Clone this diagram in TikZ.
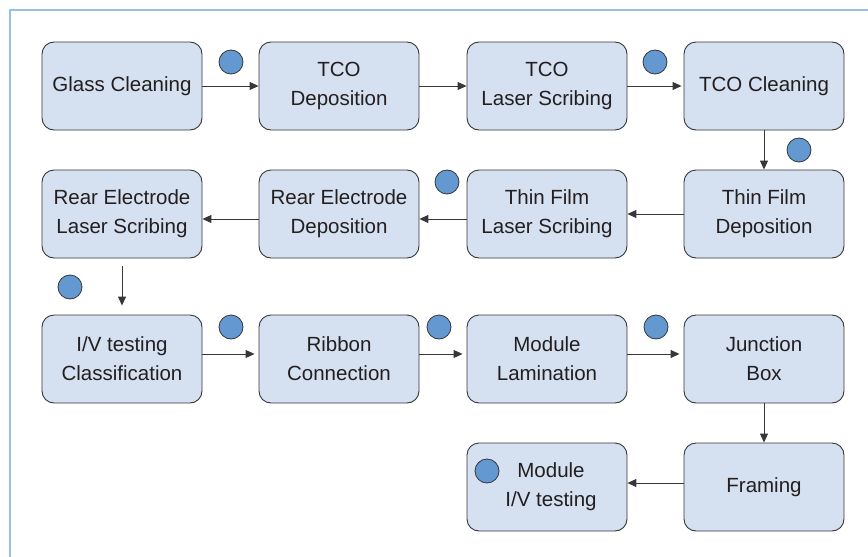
\documentclass[tikz,border=0pt]{standalone}
\usepackage{fontspec}
\setmainfont{Liberation Sans}
\usetikzlibrary{arrows.meta}
\definecolor{boxfill}{RGB}{213,224,240}
\definecolor{boxdraw}{RGB}{55,55,58}
\definecolor{dotfill}{RGB}{100,152,208}
\definecolor{frame}{RGB}{150,192,232}
\definecolor{txt}{RGB}{35,31,32}
\tikzset{
  stepbox/.style={draw=boxdraw, line width=0.9pt, fill=boxfill, rounded corners=12pt,
    minimum width=160pt, minimum height=88pt, align=center, inner sep=0pt,
    text=txt, font=\fontsize{20.5}{29}\selectfont},
  dot/.style={circle, draw=boxdraw, line width=0.8pt, fill=dotfill, minimum size=24pt, inner sep=0pt},
  flow/.style={draw=boxdraw, line width=1pt, -{Triangle[length=9pt,width=8pt]}}
}
\begin{document}
\begin{tikzpicture}[x=1pt,y=-1pt]
\useasboundingbox (0,0) rectangle (868,557);
\draw[frame, line width=1.5pt] (868,10) -- (10,10) -- (10,557);
% row 1
\node[stepbox] (gc) at (122,86) {Glass Cleaning};
\node[stepbox] (tcod) at (339,86) {TCO\\Deposition};
\node[stepbox] (tcols) at (547,86) {TCO\\Laser Scribing};
\node[stepbox] (tcoc) at (764,86) {TCO Cleaning};
% row 2
\node[stepbox] (rels) at (122,214) {Rear Electrode\\Laser Scribing};
\node[stepbox] (red) at (339,214) {Rear Electrode\\Deposition};
\node[stepbox] (tfls) at (547,214) {Thin Film\\Laser Scribing};
\node[stepbox] (tfd) at (764,214) {Thin Film\\Deposition};
% row 3
\node[stepbox] (iv) at (122,359) {I/V testing\\Classification};
\node[stepbox] (rib) at (339,359) {Ribbon\\Connection};
\node[stepbox] (lam) at (547,359) {Module\\Lamination};
\node[stepbox] (jb) at (764,359) {Junction\\Box};
% row 4
\node[stepbox] (miv) at (547,487) {\hspace*{8pt}Module\\\hspace*{8pt}I/V testing};
\node[stepbox] (fr) at (764,487) {Framing};
% dots
\node[dot] (d1) at (231,62) {};
\node[dot] (d2) at (655,62) {};
\node[dot] (d3) at (799,150) {};
\node[dot] (d4) at (447,182) {};
\node[dot] (d5) at (70,287) {};
\node[dot] (d6) at (231,327) {};
\node[dot] (d7) at (439,327) {};
\node[dot] (d8) at (656,327) {};
\node[dot] (d9) at (487,471) {};
% connectors
\draw[flow] (gc) -- (tcod);
\draw[flow] (tcod) -- (tcols);
\draw[flow, shorten >=2pt] (tcols) -- (tcoc);
\draw[flow] (tcoc) -- (tfd);
\draw[flow] (tfd) -- (tfls);
\draw[flow] ([yshift=-5pt]tfls.west) -- ([yshift=-5pt]red.east);
\draw[flow] ([yshift=-5pt]red.west) -- ([yshift=-5pt]rels.east);
\draw[flow, shorten <=8pt, shorten >=9pt] (rels) -- (iv);
\draw[flow, shorten >=4pt] ([yshift=5pt]iv.east) -- ([yshift=5pt]rib.west);
\draw[flow, shorten >=4pt] ([yshift=5pt]rib.east) -- ([yshift=5pt]lam.west);
\draw[flow, shorten >=4pt] ([yshift=5pt]lam.east) -- ([yshift=5pt]jb.west);
\draw[flow] (jb) -- (fr);
\draw[flow] ([yshift=4pt]fr.west) -- ([yshift=4pt]miv.east);
\end{tikzpicture}
\end{document}
